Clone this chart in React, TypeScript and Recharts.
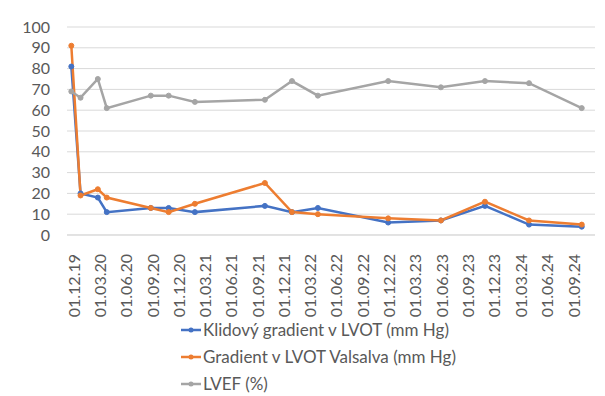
import { LineChart, Line, XAxis, YAxis, CartesianGrid, Legend } from 'recharts';

const dates = [
  '22.11.19', '24.12.19', '22.02.20', '24.03.20', '24.08.20', '25.10.20', '24.01.21', '24.09.21',
  '27.12.21', '27.03.22', '26.11.22', '28.05.23', '28.10.23', '29.03.24', '28.09.24',
];
const restGradient = [81, 20, 18, 11, 13, 13, 11, 14, 11, 13, 6, 7, 14, 5, 4];
const valsalvaGradient = [91, 19, 22, 18, 13, 11, 15, 25, 11, 10, 8, 7, 16, 7, 5];
const lvef = [69, 66, 75, 61, 67, 67, 64, 65, 74, 67, 74, 71, 74, 73, 61];
const tickLabels = [
  '01.12.19', '01.03.20', '01.06.20', '01.09.20', '01.12.20', '01.03.21', '01.06.21', '01.09.21',
  '01.12.21', '01.03.22', '01.06.22', '01.09.22', '01.12.22', '01.03.23', '01.06.23', '01.09.23',
  '01.12.23', '01.03.24', '01.06.24', '01.09.24',
];
const yTicks = [0, 10, 20, 30, 40, 50, 60, 70, 80, 90, 100];

const SERIES = [
  { key: 'rest', name: 'Klidový gradient v LVOT (mm Hg)', color: '#4472C4' },
  { key: 'valsalva', name: 'Gradient v LVOT Valsalva (mm Hg)', color: '#ED7D31' },
  { key: 'lvef', name: 'LVEF (%)', color: '#A5A5A5' },
];

const FONT = 'Lato, "Open Sans", sans-serif';
const DAY = 86400000;
const ORIGIN = Date.UTC(2019, 11, 1);

function toDay(s: string) {
  const [d, m, y] = s.split('.').map(Number);
  return Math.round((Date.UTC(2000 + y, m - 1, d) - ORIGIN) / DAY);
}

const ticks = tickLabels.map(toDay);
const labelByDay: Record<number, string> = {};
tickLabels.forEach((l, i) => { labelByDay[ticks[i]] = l; });

const data = dates.map((d, i) => ({
  day: toDay(d),
  rest: restGradient[i],
  valsalva: valsalvaGradient[i],
  lvef: lvef[i],
}));

function DateTick({ x, y, payload }: any) {
  return (
    <text
      x={x}
      y={y}
      transform={`rotate(-90 ${x} ${y})`}
      textAnchor="end"
      dy="0.35em"
      fill="#595959"
      fontSize={16}
      fontFamily={FONT}
    >
      {labelByDay[payload.value]}
    </text>
  );
}

function LegendBox() {
  return (
    <div style={{ fontFamily: FONT, fontSize: 17, color: '#595959' }}>
      {SERIES.map(s => (
        <div key={s.key} style={{ display: 'flex', alignItems: 'center', height: 27 }}>
          <svg width={21} height={10} style={{ marginRight: 1 }}>
            <line x1={0} y1={5} x2={20} y2={5} stroke={s.color} strokeWidth={2.5} />
            <circle cx={10} cy={5} r={2.5} fill={s.color} />
          </svg>
          <span>{s.name}</span>
        </div>
      ))}
    </div>
  );
}

export default function App() {
  return (
    <div style={{ position: 'absolute', left: 0, top: 0, background: '#fff' }}>
      <LineChart width={605} height={396} data={data} margin={{ top: 27, right: 10, left: 0, bottom: 0 }}>
        <CartesianGrid vertical={false} stroke="#D9D9D9" strokeWidth={1} />
        <XAxis
          dataKey="day"
          type="number"
          domain={[-24, 1809]}
          ticks={ticks}
          interval={0}
          tick={<DateTick />}
          tickLine={false}
          tickSize={0}
          tickMargin={19}
          axisLine={{ stroke: '#D9D9D9' }}
          height={80}
          allowDataOverflow
        />
        <YAxis
          domain={[0, 100]}
          ticks={yTicks}
          interval={0}
          width={67}
          axisLine={false}
          tickLine={false}
          tickSize={0}
          tickMargin={17}
          tick={{ fill: '#595959', fontSize: 16, fontFamily: FONT }}
        />
        <Legend
          content={<LegendBox />}
          wrapperStyle={{ left: 181, top: 316, width: 420 }}
        />
        {SERIES.map(s => (
          <Line
            key={s.key}
            type="linear"
            dataKey={s.key}
            name={s.name}
            stroke={s.color}
            strokeWidth={2.5}
            dot={{ r: 2.5, fill: s.color, stroke: s.color, strokeWidth: 1 }}
            isAnimationActive={false}
          />
        ))}
      </LineChart>
    </div>
  );
}
